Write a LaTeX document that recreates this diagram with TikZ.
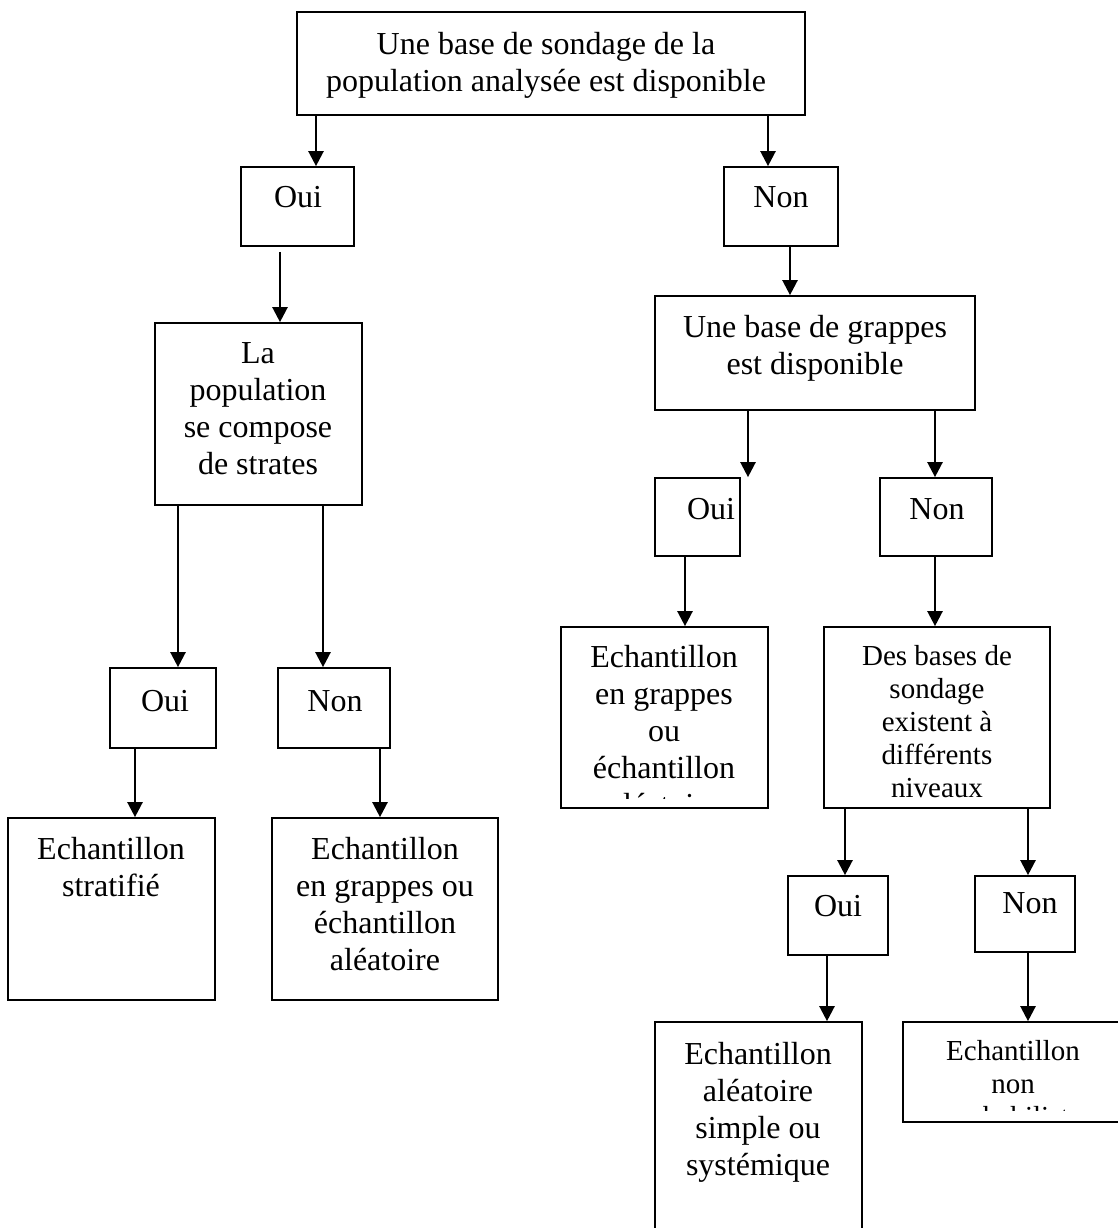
\documentclass[tikz,border=0pt]{standalone}
\usepackage{fontspec}
\setmainfont{Liberation Serif}
\usetikzlibrary{arrows.meta}
\tikzset{
  box/.style={draw, line width=1.7pt, inner sep=0pt},
  txt/.style={inner sep=0pt, align=center, anchor=north, font=\fontsize{32}{37}\selectfont},
  stxt/.style={txt, font=\fontsize{29}{33}\selectfont},
  arr/.style={line width=2.4pt, -{Triangle[width=15pt,length=15pt]}}
}
\newcommand{\mybox}[5]{% name x1 y1 x2 y2
  \node[box, minimum width={#4-#2}, minimum height={#5-#3}] (#1) at ({(#2+#4)/2},{(#3+#5)/2}) {};}
\begin{document}
\begin{tikzpicture}[x=1pt,y=-1pt]
\clip (0,0) rectangle (1118,1228);
\fill[white] (0,0) rectangle (1118,1228);
% boxes
\mybox{top}{297}{12}{805}{115}
\mybox{oui1}{241}{167}{354}{246}
\mybox{non1}{724}{167}{838}{246}
\mybox{pop}{155}{323}{362}{505}
\mybox{oui2}{110}{668}{216}{748}
\mybox{non2}{278}{668}{390}{748}
\mybox{strat}{8}{818}{215}{1000}
\mybox{grap1}{272}{818}{498}{1000}
\mybox{grappe}{655}{296}{975}{410}
\mybox{oui3}{655}{478}{740}{556}
\mybox{non3}{880}{478}{992}{556}
\mybox{grap2}{561}{627}{768}{808}
\mybox{bases}{824}{627}{1050}{808}
\mybox{oui4}{788}{876}{888}{955}
\mybox{non4}{975}{876}{1075}{952}
\mybox{alea}{655}{1022}{862}{1250}
\mybox{nonprob}{903}{1022}{1125}{1122}
% texts
\node[txt] (top-t) at (546,32) {Une base de sondage de la\\population analysée est disponible};
\node[txt] (oui1-t) at (298,186) {Oui};
\node[txt] (non1-t) at (781,186) {Non};
\node[txt] (pop-t) at (258,342) {La\\population\\se compose\\de strates};
\node[txt] (oui2-t) at (165,690) {Oui};
\node[txt] (non2-t) at (335,690) {Non};
\node[txt] (strat-t) at (111,837) {Echantillon\\stratifié};
\node[txt] (grap1-t) at (385,837) {Echantillon\\en grappes ou\\échantillon\\aléatoire};
\node[txt] (grappe-t) at (815,315) {Une base de grappes\\est disponible};
\node[txt] (oui3-t) at (711,498) {Oui};
\node[txt] (non3-t) at (937,498) {Non};
\begin{scope}
  \clip (563,629) rectangle (766,798);
  \node[txt] (grap2-t) at (664,645) {Echantillon\\en grappes\\ou\\échantillon\\aléatoire};
\end{scope}
\begin{scope}
  \clip (826,629) rectangle (1048,797);
  \node[stxt] (bases-t) at (937,645) {Des bases de\\sondage\\existent à\\différents\\niveaux};
\end{scope}
\node[txt] (oui4-t) at (838,895) {Oui};
\node[txt] (non4-t) at (1030,892) {Non};
\node[txt] (alea-t) at (758,1042) {Echantillon\\aléatoire\\simple ou\\systémique};
\begin{scope}
  \clip (905,1024) rectangle (1120,1110);
  \node[stxt] (nonprob-t) at (1013,1040) {Echantillon\\non\\probabiliste};
\end{scope}
% connectors
\draw[arr] (top.south -| 316,0) -- (oui1.north -| 316,0);
\draw[arr] (top.south -| 768,0) -- (non1.north -| 768,0);
\draw[arr] (oui1.south -| 280,0) ++(0,5) -- (pop.north -| 280,0);
\draw[arr] (non1.south -| 790,0) -- (grappe.north -| 790,0);
\draw[arr] (pop.south -| 178,0) -- (oui2.north -| 178,0);
\draw[arr] (pop.south -| 323,0) -- (non2.north -| 323,0);
\draw[arr] (oui2.south -| 135,0) -- (strat.north -| 135,0);
\draw[arr] (non2.south -| 380,0) -- (grap1.north -| 380,0);
\draw[arr] (grappe.south -| 748,0) -- (oui3.north -| 748,0);
\draw[arr] (grappe.south -| 935,0) -- (non3.north -| 935,0);
\draw[arr] (oui3.south -| 685,0) -- (grap2.north -| 685,0);
\draw[arr] (non3.south -| 935,0) -- (bases.north -| 935,0);
\draw[arr] (bases.south -| 845,0) -- (oui4.north -| 845,0);
\draw[arr] (bases.south -| 1028,0) -- (non4.north -| 1028,0);
\draw[arr] (oui4.south -| 827,0) -- (alea.north -| 827,0);
\draw[arr] (non4.south -| 1028,0) -- (nonprob.north -| 1028,0);
\end{tikzpicture}
\end{document}
